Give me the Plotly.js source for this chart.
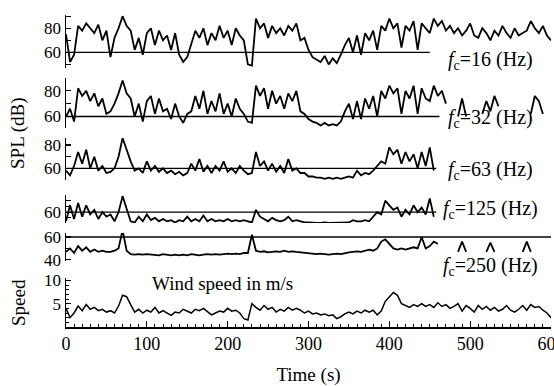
<!DOCTYPE html>
<html>
<head>
<meta charset="utf-8">
<script src="https://cdn.plot.ly/plotly-3.0.1.min.js"></script>
<style>html,body{margin:0;padding:0;background:#fff;}#chart{width:554px;height:386px;}</style>
</head>
<body>
<div id="chart"></div>
<script>
// time grid (s), 5-second sampling
var T = [];
for (var t = 0; t <= 600; t += 5) T.push(t);

// SPL (dB), fc = 16 Hz
var spl16 = [
  75,52,58,82,78,84,80,76,83,70,
  78,56,72,80,90,82,78,62,72,58,
  76,80,66,78,70,74,62,76,58,52,
  56,68,78,72,80,66,76,70,82,72,
  78,66,80,74,70,50,49,88,80,84,
  72,82,76,80,74,82,78,84,70,72,
  62,56,54,52,57,50,55,51,58,66,
  72,60,74,58,76,70,78,62,82,78,
  88,80,84,64,82,78,86,62,84,80,
  76,88,82,86,78,82,76,80,74,78,
  84,74,72,80,76,70,78,74,82,76,
  72,80,74,76,78,86,80,76,82,74,
  70];

// fc = 32 Hz
var spl32 = [
  60,66,56,82,76,80,72,78,68,74,
  62,64,70,78,88,78,74,60,70,56,
  72,76,62,74,64,66,58,70,60,55,
  62,64,76,66,80,62,72,64,78,62,
  70,60,74,66,62,56,55,84,76,82,
  66,80,70,76,66,78,72,80,64,62,
  58,56,55,53,55,53,54,53,56,64,
  70,58,72,58,74,66,76,60,80,74,
  84,78,82,62,80,74,84,62,82,74,
  72,84,76,80,70,null,null,60,74,60,
  null,null,null,62,72,64,76,68,null,null,
  null,62,null,null,null,62,76,72,62,null,
  null];

// fc = 63 Hz
var spl63 = [
  58,54,62,74,64,76,60,70,58,62,
  56,57,60,70,86,76,66,58,60,56,
  66,58,62,57,60,56,58,55,57,54,
  56,64,58,68,57,62,56,62,58,66,
  57,60,56,62,58,55,56,74,62,66,
  58,64,57,62,56,68,58,60,56,56,
  53,53,52,52,51,52,51,52,51,52,
  53,52,58,54,56,55,58,62,66,64,
  78,72,76,64,74,66,72,60,74,62,
  78,58,null,null,null,null,null,null,null,null,
  null,null,null,null,null,null,null,null,null,null,
  null,null,null,null,null,null,null,null,null,null,
  null];

// fc = 125 Hz
var spl125 = [
  52,66,54,68,56,66,58,62,54,60,
  56,58,52,60,74,62,52,51,56,52,
  58,53,55,52,54,52,53,51,53,52,
  56,52,54,52,57,52,54,52,53,52,
  54,52,53,52,53,52,51,62,56,54,
  52,55,53,52,53,56,52,53,52,51,
  51,50.5,50.5,50.5,51,50.5,50.5,51,50.5,51,
  51,53,52,52,53,52,56,60,58,70,
  66,62,64,56,62,58,66,60,64,58,
  72,56,null,null,null,null,null,null,null,null,
  null,null,null,null,null,null,null,null,null,null,
  null,null,null,null,null,null,null,null,null,null,
  null];

// fc = 250 Hz
var spl250 = [
  47,50,46,52,48,51,47,49,47,48,
  47,47,48,50,66,48,45,44.5,45,44.5,
  45,44.5,44.5,44,45,44.5,44,44.5,44,44.5,
  44,45,44.5,44,44.5,45,44.5,45,44.5,45,
  45.5,45,45.5,45,46,46,62,48,47,47.5,
  46.5,47,47.5,47,48,47,47.5,47,46.5,46,
  46,45.5,45,45.5,45,44.5,45,45.5,45,46,
  46.5,47,47.5,47,48,49,48,50,56,58,
  54,50,49,50,49,50,51,50,60,50,
  52,56,54,null,null,null,null,47,56,47,
  null,null,null,null,47,55,47,null,null,null,
  null,null,null,47,56,47,null,null,null,null,
  null];

// wind speed (m/s)
var wind = [
  4,2,3,4.5,3.5,4.8,3.8,4.2,3.5,3.8,
  3.2,3.5,3,4.5,6.8,6.5,4.8,3.2,3.8,3,
  3.6,3.2,4.2,3,3.5,3,2.5,3.2,3,3.8,
  3.4,3,3.8,3.5,4,3.2,2.6,3,3.4,3.2,
  4,3.4,3.6,3,1.8,1.5,5,4.2,3.6,4.6,
  3.8,4.2,3.2,3.8,3.4,4.2,3.6,4,3.6,3,
  3.4,2.8,3,2.6,2.8,2.4,2.6,1.8,2.2,2.8,
  3.2,2.8,3.4,3,3.6,3.2,3.6,2.6,3.4,5.5,
  6.5,7.4,6.8,5,4.6,4.2,4.8,4.4,5,4.4,
  4.8,4.2,5.2,4.4,4.8,4,4.4,5,3.4,4.6,
  4,3.2,4.6,3.8,4.4,3.6,4.2,3.4,3.8,4.6,
  3.6,3.2,3.8,4.6,3.6,4.8,4.2,4.4,3.6,3,
  2];

// 60 dB reference lines: level and where each ends (s)
var refLevel = [60, 60, 60, 60, 60];
var refEnd = [450, 462, 458, 458, 600];

var bandLabels = ['16', '32', '63', '125', '250'];
var splSeries = [spl16, spl32, spl63, spl125, spl250];

var FONT = 'Liberation Serif, Times New Roman, serif';
var axes = ['y', 'y2', 'y3', 'y4', 'y5'];

var traces = [];
for (var i = 0; i < 5; i++) {
  traces.push({x: [0, refEnd[i]], y: [refLevel[i], refLevel[i]], xaxis: 'x', yaxis: axes[i],
    mode: 'lines', line: {color: '#000', width: 1.4}, hoverinfo: 'skip'});
  traces.push({x: T, y: splSeries[i], xaxis: 'x', yaxis: axes[i], mode: 'lines',
    connectgaps: false, line: {color: '#000', width: 1.8}, name: 'fc=' + bandLabels[i] + ' Hz'});
}
traces.push({x: T, y: wind, xaxis: 'x', yaxis: 'y6', mode: 'lines',
  line: {color: '#000', width: 1.5}, name: 'Wind speed'});

// pixel helpers (plot area: top 15px, bottom 327px)
var TOP = 15, BOT = 327, L = 66, R = 551;
function py(p) { return (BOT - p) / (BOT - TOP); }
function px(p) { return (p - L) / (R - L); }

function yax(top, bot, range, vals, minorStep) {
  return {domain: [py(bot), py(top)], range: range, showline: true, linewidth: 1.5, linecolor: '#000',
    ticks: 'inside', ticklen: 5, tickwidth: 1.2, tickcolor: '#000', tickvals: vals,
    minor: {dtick: minorStep, tick0: 0, ticks: 'inside', ticklen: 5, tickwidth: 1.2, tickcolor: '#000'},
    showgrid: false, zeroline: false, fixedrange: true,
    tickfont: {family: FONT, size: 17, color: '#000'}};
}

var layout = {
  width: 554, height: 386,
  margin: {l: L, r: 554 - R, t: TOP, b: 386 - BOT},
  paper_bgcolor: '#fff', plot_bgcolor: '#fff',
  showlegend: false,
  xaxis: {anchor: 'y6', range: [0, 600], showline: true, linewidth: 1.5, linecolor: '#000',
    tickvals: [0, 100, 200, 300, 400, 500, 600], ticks: 'inside', ticklen: 6, tickwidth: 1.2, tickcolor: '#000',
    ticklabeloverflow: 'allow',
    minor: {dtick: 10, ticks: 'inside', ticklen: 3, tickcolor: '#000', tickwidth: 1},
    showgrid: false, zeroline: false,
    tickfont: {family: FONT, size: 18, color: '#000'},
    title: {text: 'Time (s)', font: {family: FONT, size: 19, color: '#000'}, standoff: 18}},
  yaxis: yax(15, 68, [47, 91], [60, 80], 10),
  yaxis2: yax(78, 128, [51, 90], [60, 80], 10),
  yaxis3: yax(138, 180, [50, 86], [60, 80], 10),
  yaxis4: yax(195, 223, [50.5, 75], [60], 5),
  yaxis5: yax(233, 261, [39, 63.5], [40, 60], 10),
  yaxis6: {domain: [py(327), py(278)], range: [0, 10.5], showline: true, linewidth: 1.5, linecolor: '#000',
    ticks: 'inside', ticklen: 5, tickwidth: 1.2, tickcolor: '#000', tickvals: [5, 10],
    minor: {dtick: 1, ticks: 'inside', ticklen: 3, tickcolor: '#000', tickwidth: 1},
    showgrid: false, zeroline: false, tickfont: {family: FONT, size: 17, color: '#000'}},
  annotations: []
};

var labelY = [60, 118, 170, 209, 266];
for (var k = 0; k < 5; k++) {
  layout.annotations.push({xref: 'paper', yref: 'paper', x: px(490), y: py(labelY[k]),
    xanchor: 'center', yanchor: 'middle', showarrow: false,
    text: '<i>f</i><sub>c</sub>=' + bandLabels[k] + ' (Hz)',
    font: {family: FONT, size: 20, color: '#000'}});
}
layout.annotations.push({xref: 'paper', yref: 'paper', x: px(222), y: py(283), xanchor: 'center', yanchor: 'middle',
  showarrow: false, text: 'Wind speed in m/s', font: {family: FONT, size: 19, color: '#000'}});
layout.annotations.push({xref: 'paper', yref: 'paper', x: px(18), y: py(133), xanchor: 'center', yanchor: 'middle',
  showarrow: false, textangle: -90, text: 'SPL (dB)', font: {family: FONT, size: 19, color: '#000'}});
layout.annotations.push({xref: 'paper', yref: 'paper', x: px(18), y: py(303), xanchor: 'center', yanchor: 'middle',
  showarrow: false, textangle: -90, text: 'Speed', font: {family: FONT, size: 19, color: '#000'}});

Plotly.newPlot('chart', traces, layout, {displayModeBar: false, staticPlot: true});
</script>
</body>
</html>
